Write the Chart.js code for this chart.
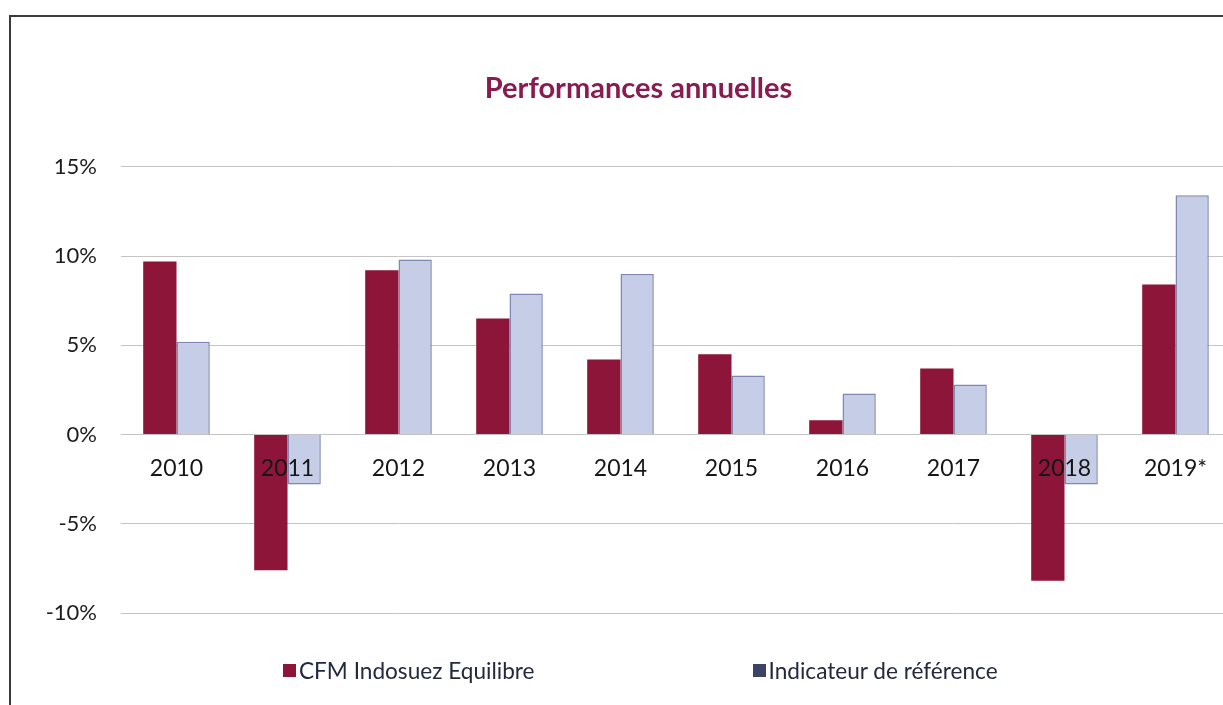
<!DOCTYPE html>
<html>
<head>
<meta charset="utf-8">
<script src="https://cdn.jsdelivr.net/npm/chart.js@4.4.1/dist/chart.umd.min.js"></script>
<style>
  html, body { margin: 0; padding: 0; background: #fff; overflow: hidden; width: 1223px; height: 705px; }
  #wrap { position: absolute; left: 0; top: 0; width: 1274px; height: 705px; }
  #frame { position: absolute; left: 9px; top: 15px; width: 1400px; height: 900px;
           border-left: 2px solid #3a3a3a; border-top: 2px solid #3a3a3a; pointer-events: none; }
  #legend { position: absolute; top: 657px; left: 283px; display: flex; gap: 218px;
            font-family: Lato, sans-serif; font-size: 22.6px; color: #232a40; }
  #legend .item { display: flex; align-items: center; }
  #legend .box { width: 13px; height: 13px; margin-right: 3px; box-sizing: border-box; }
</style>
</head>
<body>
<div id="wrap"><canvas id="perfChart" width="1274" height="705"></canvas></div>
<div id="frame"></div>
<div id="legend"></div>
<script>
    let years = ["2010", "2011", "2012", "2013", "2014", "2015", "2016", "2017", "2018", "2019*"]
    let fundValues = [9.7, -7.6, 9.2, 6.5, 4.2, 4.5, 0.8, 3.7, -8.2, 8.4]
    let benchValues = [5.2, -2.8, 9.8, 7.9, 9.0, 3.3, 2.3, 2.8, -2.8, 13.4]
    let seriesNames = ["CFM Indosuez Equilibre", "Indicateur de référence"]
    let seriesColors = ["#8c1539", "#c6cde6"]
    let legendColors = ["#8c1539", "#3b4466"]

    const data = {
        labels: years,
        datasets: [{
            label: seriesNames[0],
            data: fundValues,
            backgroundColor: seriesColors[0],
            borderWidth: 0
        }, {
            label: seriesNames[1],
            data: benchValues,
            backgroundColor: seriesColors[1],
            borderColor: "#7e88b0",
            borderWidth: 1.5
        }]
    };

    const config = {
        type: "bar",
        data: data,
        options: {
            responsive: false,
            animation: false,
            datasets: {
                bar: { categoryPercentage: 0.6, barPercentage: 1.0 }
            },
            layout: {
                padding: { left: 46, right: 43, top: 0, bottom: 92 }
            },
            scales: {
                x: {
                    position: { y: 0 },
                    grid: { display: false, drawTicks: false },
                    border: { display: false },
                    ticks: {
                        z: 1,   // year labels sit on top of the negative bars
                        padding: 20,
                        color: "#161616",
                        font: { family: "Lato", size: 23 }
                    }
                },
                y: {
                    min: -10,
                    max: 15,
                    afterFit: (scale) => { scale.width = 75 },
                    grid: { color: "#c4c4c4", lineWidth: 1, drawTicks: false },
                    border: { display: false },
                    ticks: {
                        stepSize: 5,
                        padding: 24,
                        color: "#1c1c1c",
                        font: { family: "Lato", size: 22 },
                        callback: (v) => v + "%"
                    }
                }
            },
            plugins: {
                legend: { display: false },
                tooltip: { enabled: false },
                title: {
                    display: true,
                    text: "Performances annuelles",
                    color: "#8a1a50",
                    font: { family: "Lato", size: 29, weight: "bold" },
                    padding: { top: 71, bottom: 61 }
                }
            }
        }
    };

    const myChart = new Chart(document.getElementById("perfChart"), config)

    // legend drawn as html to get the wide spacing between items
    let legendDiv = document.getElementById("legend")
    seriesNames.forEach((name, i) => {
        let item = document.createElement("div")
        item.className = "item"
        let box = document.createElement("span")
        box.className = "box"
        box.style.background = legendColors[i]
        let txt = document.createElement("span")
        txt.textContent = name
        item.appendChild(box)
        item.appendChild(txt)
        legendDiv.appendChild(item)
    })
</script>
</body>
</html>
